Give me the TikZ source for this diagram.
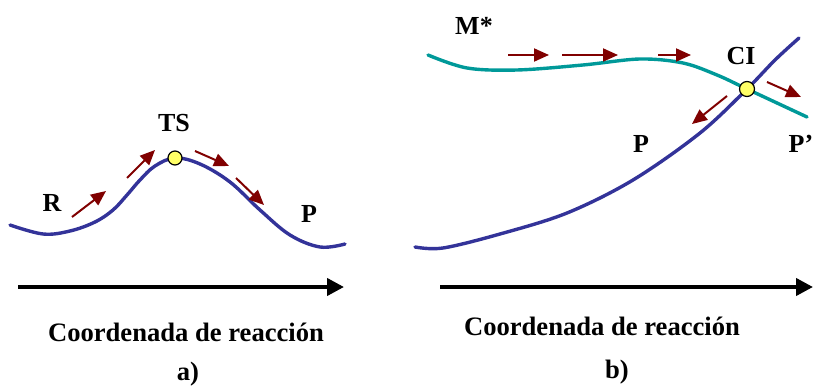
\documentclass[tikz,border=0pt]{standalone}
\usepackage{fontspec}
\setmainfont{Liberation Serif}
\usetikzlibrary{arrows.meta}
\definecolor{curveblue}{RGB}{51,51,153}
\definecolor{curveteal}{RGB}{0,153,153}
\definecolor{arrred}{RGB}{128,0,0}
\definecolor{dotyellow}{RGB}{255,255,102}
\begin{document}
\begin{tikzpicture}[x=1pt,y=-1pt,
  lbl/.style={font=\fontsize{26}{30}\selectfont\bfseries, inner sep=0pt, anchor=base},
  axlbl/.style={lbl, font=\fontsize{26.6}{30}\selectfont\bfseries},
  curve/.style={line width=3.4pt, line cap=round},
  flow/.style={draw=arrred, line width=2pt, -{Triangle[length=15pt,width=13pt]}},
  axis/.style={draw=black, line width=4pt, -{Triangle[length=17pt,width=17pt]}},
  crit/.style={circle, draw=black, line width=1.2pt, fill=dotyellow, minimum size=14pt, inner sep=0pt}]
\useasboundingbox (0,0) rectangle (813,387);
% ---- panel a ----
\draw[curve, curveblue] plot[smooth, tension=0.6] coordinates {(10,225) (43,234) (70,231) (95,222) (113,210) (127,195) (140,180) (155,166) (175,158) (200,164) (230,182) (260,210) (290,235) (320,247) (345,244)};
\node[crit] (ts) at (175,158) {};
\coordinate (a1s) at (72,217); \coordinate (a1e) at (106,191);
\coordinate (a2s) at (127,178); \coordinate (a2e) at (155,150);
\coordinate (a3s) at (195,151); \coordinate (a3e) at (229,166);
\coordinate (a4s) at (236,178); \coordinate (a4e) at (264,205);
\draw[flow] (a1s) -- (a1e);
\draw[flow] (a2s) -- (a2e);
\draw[flow] (a3s) -- (a3e);
\draw[flow] (a4s) -- (a4e);
\node[lbl] (R) at (52,212) {R};
\node[lbl] (TS) at (174,132) {TS};
\node[lbl] (Pa) at (309,223) {P};
\coordinate (ax1s) at (18,287); \coordinate (ax1e) at (344,287);
\draw[axis] (ax1s) -- (ax1e);
\node[axlbl] (cra) at (186,341) {Coordenada de reacción};
\node[axlbl] (la) at (188,380) {a)};
% ---- panel b ----
\draw[curve, curveteal] plot[smooth, tension=0.55] coordinates {(428,55) (467,68) (517,70) (583,65) (640,59) (683,63) (717,75) (747,89) (807,117)};
\draw[curve, curveblue] plot[smooth, tension=0.55] coordinates {(415,247) (443,248) (500,234) (567,213) (633,180) (700,133) (747,89) (775,60) (799,38)};
\node[crit, minimum size=15pt] (ci) at (747,89) {};
\coordinate (b1s) at (508,55); \coordinate (b1e) at (549,55);
\coordinate (b2s) at (562,55); \coordinate (b2e) at (618,55);
\coordinate (b3s) at (658,55); \coordinate (b3e) at (691,55);
\coordinate (b4s) at (727,96); \coordinate (b4e) at (692,124);
\coordinate (b5s) at (767,82); \coordinate (b5e) at (801,97);
\draw[flow] (b1s) -- (b1e);
\draw[flow] (b2s) -- (b2e);
\draw[flow] (b3s) -- (b3e);
\draw[flow] (b4s) -- (b4e);
\draw[flow] (b5s) -- (b5e);
\node[lbl] (M) at (474,35) {M*};
\node[lbl] (CI) at (741,65) {CI};
\node[lbl] (Pb) at (641,153) {P};
\node[lbl] (Pp) at (801,153) {P’};
\coordinate (ax2s) at (440,287); \coordinate (ax2e) at (813,287);
\draw[axis] (ax2s) -- (ax2e);
\node[axlbl] (crb) at (602,335) {Coordenada de reacción};
\node[axlbl] (lb) at (617,378) {b)};
\end{tikzpicture}
\end{document}
